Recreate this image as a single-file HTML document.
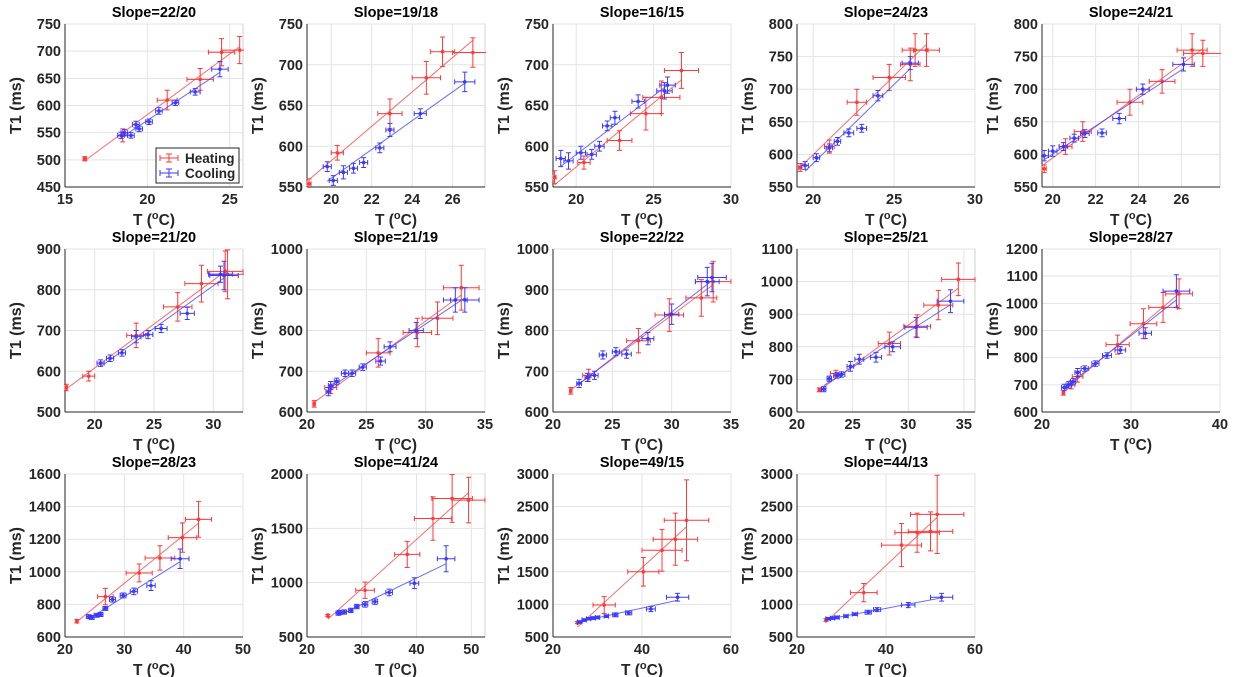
<!DOCTYPE html>
<html><head><meta charset="utf-8"><style>
body{margin:0;background:#fff;}
svg{display:block;font-family:"Liberation Sans",sans-serif;}
</style></head><body>
<svg id="fig" width="1235" height="677" viewBox="0 0 1235 677"></svg>
<script>
const titles=["Slope=22/20","Slope=19/18","Slope=16/15","Slope=24/23","Slope=24/21","Slope=21/20","Slope=21/19","Slope=22/22","Slope=25/21","Slope=28/27","Slope=28/23","Slope=41/24","Slope=49/15","Slope=44/13"];
const xLims=[[15,25.8],[18.8,27.6],[18.5,30],[19,30],[19.5,27.8],[17.5,32.5],[20,35],[20,35],[20,36],[20,40],[20,50],[20,52.5],[20,60],[20,60]];
const yLims=[[450,750],[550,750],[550,750],[550,800],[550,800],[500,900],[600,1000],[600,1000],[600,1100],[600,1200],[600,1600],[500,2000],[500,3000],[500,3000]];
const xTicks=[[15,20,25],[20,22,24,26],[20,25,30],[20,25,30],[20,22,24,26],[20,25,30],[20,25,30,35],[20,25,30,35],[20,25,30,35],[20,30,40],[20,30,40,50],[20,30,40,50],[20,40,60],[20,40,60]];
const yTicks=[[450,500,550,600,650,700,750],[550,600,650,700,750],[550,600,650,700,750],[550,600,650,700,750,800],[550,600,650,700,750,800],[500,600,700,800,900],[600,700,800,900,1000],[600,700,800,900,1000],[600,700,800,900,1000,1100],[600,700,800,900,1000,1100,1200],[600,800,1000,1200,1400,1600],[500,1000,1500,2000],[500,1000,1500,2000,2500,3000],[500,1000,1500,2000,2500,3000]];
const heatT=[[16.2,18.5,21.2,23.2,24.5,25.6],[18.9,20.3,22.9,24.7,25.5,27.0],[18.6,20.5,22.8,24.5,25.5,26.8],[19.2,21,22.7,24.7,26,26.3,27],[19.6,20.6,21.4,23.6,25.1,26.5,27.0],[17.6,19.5,23.5,27,29,31,31.2],[20.6,22,26,29.3,31,33],[21.5,23,27.2,29.8,32.5,33.5],[22,23.5,28.3,30.8,32.7,34.5],[22.4,23.3,24,28.5,31.4,33.6,35.4],[22,26.8,32.5,36,39.8,42.5],[23.8,30.6,38.3,43,46.5,49.5],[25.5,31.5,40.3,44.5,47.5,50],[26.5,35,43.5,47,50,51.5]];
const heatT1=[[502,545,610,648,698,702],[554,592,640,684,716,715],[562,580,607,640,660,693],[580,612,680,718,738,760,760],[578,612,635,680,712,760,755],[560,588,688,758,815,845,838],[620,660,745,795,830,905],[652,690,775,838,880,920],[668,718,810,863,928,1007],[670,700,730,848,925,985,1035],[697,848,993,1085,1210,1322],[697,930,1260,1590,1775,1760],[720,990,1500,1830,2000,2290],[760,1180,1910,2100,2120,2380]];
const heatErrT=[[0.1,0.3,0.6,0.8,0.8,1.1],[0.1,0.3,0.6,0.7,0.6,1.0],[0.1,0.4,0.8,1.0,1.2,1.1],[0.1,0.3,0.6,1.0,0.6,0.8,0.8],[0.1,0.3,0.4,0.6,0.6,0.7,0.9],[0.1,0.5,0.8,1.2,1.4,1.5,1.5],[0.1,0.5,1.0,1.2,1.3,1.5],[0.1,0.5,1.0,1.2,1.3,1.5],[0.1,0.5,1.0,1.2,1.3,1.5],[0.1,0.4,0.6,1.3,1.5,1.6,1.5],[0.1,1.3,2.2,2.5,2.4,2.2],[0.1,1.7,2.3,3.4,3.7,3.0],[0.1,2.5,3.5,4.5,5,5],[0.1,3,4.5,5,5,6]];
const heatErrT1=[[4,12,18,20,25,25],[6,9,18,20,18,18],[8,8,12,20,20,22],[6,10,20,20,25,25,25],[6,12,15,20,18,25,20],[8,12,30,35,45,50,60],[8,15,35,35,40,55],[8,15,30,40,45,50],[6,10,35,35,45,50],[8,15,20,35,55,55,55],[10,50,55,75,90,110],[10,75,120,200,220,210],[15,130,220,320,400,620],[20,140,330,300,300,600]];
const coolT=[[18.4,18.6,19.0,19.3,19.5,20.1,20.7,21.7,22.9,24.4],[19.8,20.1,20.6,21.1,21.6,22.4,22.9,24.4,26.6],[19.0,19.5,20.3,21.0,21.5,22.0,22.5,24.0,25.7,25.9],[19.5,20.2,21.0,21.5,22.2,23.0,24.0,26.0],[19.6,20.0,20.5,21.0,21.5,22.3,23.1,24.2,26.1],[20.5,21.3,22.3,23.5,24.5,25.6,27.8,30.6,30.9],[21.8,22,22.5,23.2,23.8,24.7,26.2,27,29.2,32.5,33.3],[22.2,22.9,23.5,24.2,25.3,26.2,28,30,33,33.4],[22.4,22.9,23.6,24.0,24.8,25.6,27.1,28.6,30.7,33.8],[22.5,23,23.5,24,24.8,26,27.3,28.8,31.6,35.1],[24,24.5,25.3,26,26.8,28,29.8,31.6,34.5,39.4],[25.7,26,26.8,28,29.1,30.6,32.4,35,39.6,45.4],[26,27,28,29,30,32,34,37,42,48],[27,28,29,31,33,36,38,45,52.5]];
const coolT1=[[545,550,545,565,557,570,590,605,625,667],[575,558,568,573,580,598,620,640,679],[585,582,592,590,600,625,635,655,668,675],[583,595,610,620,633,640,690,740],[598,605,612,625,632,633,655,700,738],[620,632,645,685,690,705,742,838,835],[650,665,675,695,695,710,725,760,800,875,875],[670,685,690,740,748,742,780,840,920,930],[670,702,712,715,740,762,768,800,860,940],[690,700,712,745,760,778,808,828,890,1045],[725,720,733,738,775,830,855,880,915,1080],[720,725,730,745,780,800,825,910,995,1220],[730,760,780,790,800,820,840,870,930,1110],[780,790,800,820,850,880,920,990,1110]];
const coolErrT=[[0.2,0.2,0.2,0.2,0.2,0.2,0.2,0.2,0.3,0.5],[0.2,0.2,0.2,0.2,0.2,0.2,0.2,0.3,0.5],[0.3,0.3,0.3,0.3,0.3,0.3,0.3,0.4,0.5,0.5],[0.2,0.2,0.2,0.2,0.3,0.3,0.3,0.5],[0.2,0.2,0.2,0.2,0.2,0.2,0.3,0.3,0.5],[0.3,0.3,0.3,0.4,0.4,0.5,0.6,1.0,1.2],[0.2,0.2,0.2,0.3,0.3,0.3,0.4,0.5,0.6,1.0,1.2],[0.2,0.2,0.3,0.3,0.3,0.4,0.5,0.6,1.0,1.2],[0.2,0.2,0.3,0.3,0.3,0.4,0.5,0.7,1.0,1.2],[0.3,0.3,0.3,0.3,0.4,0.4,0.5,0.6,0.7,1.5],[0.4,0.4,0.4,0.4,0.4,0.5,0.5,0.6,0.7,1.5],[0.4,0.4,0.4,0.4,0.4,0.5,0.5,0.6,0.8,1.6],[0.5,0.5,0.5,0.5,0.5,0.5,0.6,0.7,1,2.5],[0.5,0.5,0.5,0.5,0.6,0.7,0.8,1.5,2.5]];
const coolErrT1=[[6,6,5,6,5,5,6,5,6,14],[6,6,8,6,6,6,8,6,12],[10,10,8,6,6,6,8,8,10,10],[6,6,6,6,6,6,8,10],[8,8,6,6,6,6,8,8,10],[8,8,8,15,10,10,15,20,35],[10,10,8,8,8,8,10,12,20,30,30],[10,10,10,10,10,10,15,25,35,35],[8,8,8,8,15,15,15,15,30,35],[12,12,12,15,10,10,10,12,20,60],[12,12,12,12,12,15,15,20,30,60],[20,20,20,20,20,25,25,30,50,120],[20,20,20,20,20,20,30,30,40,60],[20,20,20,20,20,30,30,40,60]];

const NS="http://www.w3.org/2000/svg";
const svg=document.getElementById('fig');
const colLeft=[65,307,553,797,1042], rowTop=[24,249,474], PW=178, PH=163;
function mk(tag,attrs,parent){const e=document.createElementNS(NS,tag);for(const k in attrs)e.setAttribute(k,attrs[k]);(parent||svg).appendChild(e);return e;}
function fit(xs,ys){const n=xs.length;let sx=0,sy=0,sxx=0,sxy=0;for(let i=0;i<n;i++){sx+=xs[i];sy+=ys[i];sxx+=xs[i]*xs[i];sxy+=xs[i]*ys[i];}const b=(n*sxy-sx*sy)/(n*sxx-sx*sx);return [b,(sy-b*sx)/n];}

titles.forEach((t,p)=>{
  const L=colLeft[p%5], T=rowTop[Math.floor(p/5)];
  const [x0,x1]=xLims[p],[y0,y1]=yLims[p];
  const sx=v=>L+(v-x0)/(x1-x0)*PW, sy=v=>T+PH-(v-y0)/(y1-y0)*PH;
  const g=mk('g',{});
  
  
  const bg=mk('rect',{x:L,y:T,width:PW,height:PH,fill:'#fff',stroke:'#d0d0d0','stroke-width':1},g);
  
  
  xTicks[p].forEach(v=>{const x=sx(v);
    mk('line',{x1:x,x2:x,y1:T,y2:T+PH,stroke:'#e3e3e3','stroke-width':1},g);
    const tx=mk('text',{x:x,y:T+PH+17,'text-anchor':'middle','font-size':14.5,'font-weight':'bold',fill:'#262626'},g);tx.textContent=v;
    
    });
  yTicks[p].forEach(v=>{const y=sy(v);
    mk('line',{x1:L,x2:L+PW,y1:y,y2:y,stroke:'#e3e3e3','stroke-width':1},g);
    const ty=mk('text',{x:L-4,y:y+5,'text-anchor':'end','font-size':14.5,'font-weight':'bold',fill:'#262626'},g);ty.textContent=v;
    
    });
  mk('line',{x1:L,x2:L,y1:T,y2:T+PH,stroke:'#262626','stroke-width':1},g);
  mk('line',{x1:L,x2:L+PW,y1:T+PH,y2:T+PH,stroke:'#262626','stroke-width':1},g);
  const ti=mk('text',{x:L+PW/2,y:T-7,'text-anchor':'middle','font-size':14.5,'font-weight':'bold',fill:'#000'},g);ti.textContent=t;
  
  
  const xl=mk('text',{x:L+PW/2,y:T+PH+38,'text-anchor':'middle','font-size':15.5,'font-weight':'bold',fill:'#262626'},g);
  xl.innerHTML='T (<tspan dy="-6" font-size="11">o</tspan><tspan dy="6">C)</tspan>';
  
  
  const yl=mk('text',{x:0,y:0,transform:`translate(${L-44},${T+PH/2}) rotate(-90)`,'text-anchor':'middle','font-size':16,'font-weight':'bold',fill:'#262626'},g);yl.textContent='T1 (ms)';
  
  
  const clip=mk('clipPath',{id:'c'+p},g);mk('rect',{x:L-1,y:T-1,width:PW+2,height:PH+2},clip);
  const series=[[heatT[p],heatT1[p],heatErrT[p],heatErrT1[p],'#ff3838','heating'],[coolT[p],coolT1[p],coolErrT[p],coolErrT1[p],'#3a3aff','cooling']];
  series.forEach(([xs,ys,ex,ey,col,nm])=>{
    const sg=mk('g',{'clip-path':`url(#c${p})`,stroke:col,fill:'none','stroke-width':1},g);
    
    
    const [b,a]=fit(xs,ys);const xa=Math.min(...xs),xb=Math.max(...xs);
    const ln=mk('line',{x1:sx(xa),y1:sy(a+b*xa),x2:sx(xb),y2:sy(a+b*xb),'stroke-opacity':0.75},sg);
    
    
    xs.forEach((x,i)=>{const cx=sx(x),cy=sy(ys[i]);
      const xa2=sx(x-ex[i]),xb2=sx(x+ex[i]),ya=sy(ys[i]-ey[i]),yb=sy(ys[i]+ey[i]);
      const e=mk('path',{d:`M${xa2},${cy}H${xb2}M${xa2},${cy-2.5}V${cy+2.5}M${xb2},${cy-2.5}V${cy+2.5}M${cx},${ya}V${yb}M${cx-2.5},${ya}H${cx+2.5}M${cx-2.5},${yb}H${cx+2.5}`},sg);
      
      
      mk('circle',{cx:cx,cy:cy,r:1.3,fill:col},sg);
    });
  });
  if(p===0){
    const lg=mk('g',{},g);
    
    
    mk('rect',{x:156,y:148,width:83,height:35,fill:'#fff',stroke:'#262626','stroke-width':1},lg);
    [['Heating','#ff3838',158],['Cooling','#3a3aff',173]].forEach(([n,c,y])=>{
      const e=mk('path',{d:`M160,${y}H178M160,${y-3}V${y+3}M178,${y-3}V${y+3}M169,${y-4}V${y+4}M166,${y-4}H172M166,${y+4}H172`,stroke:c,fill:'none'},lg);
      
      
      const tx=mk('text',{x:185,y:y+5,'font-size':13.5,'font-weight':'bold',fill:'#262626'},lg);tx.textContent=n;
      
      
    });
  }
});
</script>
</body></html>
